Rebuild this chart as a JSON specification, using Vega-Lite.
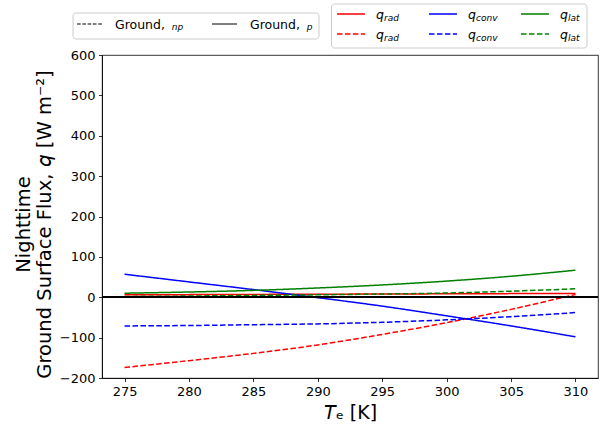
{
  "$schema": "https://vega.github.io/schema/vega-lite/v6.json",
  "width": 496,
  "height": 323,
  "autosize": {"type": "none"},
  "padding": {"left": 102, "top": 55, "right": 4, "bottom": 53},
  "background": "white",
  "config": {
    "font": "DejaVu Sans",
    "view": {"stroke": "black", "strokeWidth": 0.8},
    "axis": {
      "domainColor": "black",
      "domainWidth": 0.8,
      "tickColor": "black",
      "tickWidth": 0.8,
      "tickSize": 3.5,
      "labelPadding": 3.5,
      "labelFont": "DejaVu Sans",
      "labelFontSize": 13,
      "labelColor": "black",
      "titleFont": "DejaVu Sans",
      "titleFontSize": 19,
      "titleFontWeight": "normal",
      "titleColor": "black",
      "grid": false
    }
  },
  "datasets": {
    "flux": [
      {"T": 275, "flux": "rad", "case": "p", "q": 6},
      {"T": 280, "flux": "rad", "case": "p", "q": 6.5},
      {"T": 285, "flux": "rad", "case": "p", "q": 7},
      {"T": 290, "flux": "rad", "case": "p", "q": 7.5},
      {"T": 295, "flux": "rad", "case": "p", "q": 8},
      {"T": 300, "flux": "rad", "case": "p", "q": 8.5},
      {"T": 305, "flux": "rad", "case": "p", "q": 9},
      {"T": 310, "flux": "rad", "case": "p", "q": 9.5},
      {"T": 275, "flux": "rad", "case": "np", "q": -174},
      {"T": 280, "flux": "rad", "case": "np", "q": -157},
      {"T": 285, "flux": "rad", "case": "np", "q": -139},
      {"T": 290, "flux": "rad", "case": "np", "q": -118},
      {"T": 295, "flux": "rad", "case": "np", "q": -92},
      {"T": 300, "flux": "rad", "case": "np", "q": -63},
      {"T": 305, "flux": "rad", "case": "np", "q": -30},
      {"T": 310, "flux": "rad", "case": "np", "q": 7},
      {"T": 275, "flux": "conv", "case": "p", "q": 57},
      {"T": 280, "flux": "conv", "case": "p", "q": 38},
      {"T": 285, "flux": "conv", "case": "p", "q": 19},
      {"T": 290, "flux": "conv", "case": "p", "q": -1},
      {"T": 295, "flux": "conv", "case": "p", "q": -22},
      {"T": 300, "flux": "conv", "case": "p", "q": -46},
      {"T": 305, "flux": "conv", "case": "p", "q": -71},
      {"T": 310, "flux": "conv", "case": "p", "q": -98},
      {"T": 275, "flux": "conv", "case": "np", "q": -71},
      {"T": 280, "flux": "conv", "case": "np", "q": -70},
      {"T": 285, "flux": "conv", "case": "np", "q": -68},
      {"T": 290, "flux": "conv", "case": "np", "q": -66},
      {"T": 295, "flux": "conv", "case": "np", "q": -62},
      {"T": 300, "flux": "conv", "case": "np", "q": -56},
      {"T": 305, "flux": "conv", "case": "np", "q": -48},
      {"T": 310, "flux": "conv", "case": "np", "q": -38},
      {"T": 275, "flux": "lat", "case": "p", "q": 10},
      {"T": 280, "flux": "lat", "case": "p", "q": 13},
      {"T": 285, "flux": "lat", "case": "p", "q": 17},
      {"T": 290, "flux": "lat", "case": "p", "q": 23},
      {"T": 295, "flux": "lat", "case": "p", "q": 30.5},
      {"T": 300, "flux": "lat", "case": "p", "q": 40},
      {"T": 305, "flux": "lat", "case": "p", "q": 52},
      {"T": 310, "flux": "lat", "case": "p", "q": 67},
      {"T": 275, "flux": "lat", "case": "np", "q": 2},
      {"T": 280, "flux": "lat", "case": "np", "q": 3},
      {"T": 285, "flux": "lat", "case": "np", "q": 4.5},
      {"T": 290, "flux": "lat", "case": "np", "q": 6},
      {"T": 295, "flux": "lat", "case": "np", "q": 8},
      {"T": 300, "flux": "lat", "case": "np", "q": 10.5},
      {"T": 305, "flux": "lat", "case": "np", "q": 15},
      {"T": 310, "flux": "lat", "case": "np", "q": 21}
    ],
    "fluxKey": [
      {"flux": "rad", "case": "p", "col": 0, "row": 0, "sub": "rad"},
      {"flux": "conv", "case": "p", "col": 1, "row": 0, "sub": "conv"},
      {"flux": "lat", "case": "p", "col": 2, "row": 0, "sub": "lat"},
      {"flux": "rad", "case": "np", "col": 0, "row": 1, "sub": "rad"},
      {"flux": "conv", "case": "np", "col": 1, "row": 1, "sub": "conv"},
      {"flux": "lat", "case": "np", "col": 2, "row": 1, "sub": "lat"}
    ],
    "caseKey": [
      {"case": "np", "col": 0, "row": 0, "sub": "np"},
      {"case": "p", "col": 1, "row": 0, "sub": "p"}
    ]
  },
  "layer": [
    {
      "data": {"name": "flux"},
      "layer": [
        {
          "mark": {"type": "line", "strokeWidth": 1.5, "interpolate": "monotone"},
          "encoding": {
            "x": {
              "field": "T",
              "type": "quantitative",
              "scale": {"domain": [273.25, 311.75], "nice": false, "zero": false},
              "axis": {
                "values": [275, 280, 285, 290, 295, 300, 305, 310],
                "title": "𝘛ₑ [K]",
                "titleX": 248,
                "titleY": 40,
                "titleAlign": "center",
                "titleBaseline": "alphabetic"
              }
            },
            "y": {
              "field": "q",
              "type": "quantitative",
              "scale": {"domain": [-200, 600], "nice": false, "zero": false},
              "axis": {
                "values": [-200, -100, 0, 100, 200, 300, 400, 500, 600],
                "title": ["Nighttime", "Ground Surface Flux, 𝘲 [W m⁻²]"],
                "titleAngle": -90,
                "titleFontSize": 19.5,
                "titleX": -73,
                "titleY": 169,
                "titleAlign": "center",
                "titleBaseline": "alphabetic",
                "titleLineHeight": 21.5
              }
            },
            "color": {
              "field": "flux",
              "type": "nominal",
              "scale": {"domain": ["rad", "conv", "lat"], "range": ["#ff0000", "#0000ff", "#008000"]},
              "legend": null
            },
            "strokeDash": {
              "field": "case",
              "type": "nominal",
              "scale": {"domain": ["np", "p"], "range": [[5.55, 2.4], [1, 0]]},
              "legend": null
            }
          }
        },
        {
          "mark": {"type": "rule", "color": "black", "strokeWidth": 1.5},
          "encoding": {"y": {"datum": 0, "type": "quantitative"}}
        }
      ]
    },
    {
      "data": {"name": "fluxKey"},
      "layer": [
        {
          "mark": {
            "type": "rect",
            "fill": "white",
            "fillOpacity": 0.8,
            "stroke": "#cccccc",
            "strokeWidth": 1,
            "cornerRadius": 3,
            "xOffset": -5.5,
            "x2Offset": 66,
            "yOffset": -10,
            "y2Offset": 14
          },
          "encoding": {
            "x": {"aggregate": "min", "field": "col", "type": "quantitative", "scale": {"domain": [0, 2], "range": [235, 419]}, "axis": null},
            "x2": {"aggregate": "max", "field": "col"},
            "y": {"aggregate": "min", "field": "row", "type": "quantitative", "scale": {"domain": [0, 1], "range": [-41, -21]}, "axis": null},
            "y2": {"aggregate": "max", "field": "row"}
          }
        },
        {
          "mark": {"type": "rule", "strokeWidth": 1.5, "x2Offset": 28},
          "encoding": {
            "x": {"field": "col", "type": "quantitative", "scale": {"domain": [0, 2], "range": [235, 419]}, "axis": null},
            "x2": {"field": "col"},
            "y": {"field": "row", "type": "quantitative", "scale": {"domain": [0, 1], "range": [-41, -21]}, "axis": null},
            "color": {
              "field": "flux",
              "type": "nominal",
              "scale": {"domain": ["rad", "conv", "lat"], "range": ["#ff0000", "#0000ff", "#008000"]},
              "legend": null
            },
            "strokeDash": {
              "field": "case",
              "type": "nominal",
              "scale": {"domain": ["np", "p"], "range": [[5.55, 2.4], [1, 0]]},
              "legend": null
            }
          }
        },
        {
          "mark": {"type": "text", "text": "q", "fontStyle": "italic", "fontSize": 12.5, "align": "left", "baseline": "alphabetic", "dx": 39, "dy": 4.5, "color": "black"},
          "encoding": {
            "x": {"field": "col", "type": "quantitative", "scale": {"domain": [0, 2], "range": [235, 419]}, "axis": null},
            "y": {"field": "row", "type": "quantitative", "scale": {"domain": [0, 1], "range": [-41, -21]}, "axis": null}
          }
        },
        {
          "mark": {"type": "text", "fontStyle": "italic", "fontSize": 9, "align": "left", "baseline": "alphabetic", "dx": 47, "dy": 6.5, "color": "black"},
          "encoding": {
            "x": {"field": "col", "type": "quantitative", "scale": {"domain": [0, 2], "range": [235, 419]}, "axis": null},
            "y": {"field": "row", "type": "quantitative", "scale": {"domain": [0, 1], "range": [-41, -21]}, "axis": null},
            "text": {"field": "sub"}
          }
        }
      ]
    },
    {
      "data": {"name": "caseKey"},
      "layer": [
        {
          "mark": {
            "type": "rect",
            "fill": "white",
            "fillOpacity": 0.8,
            "stroke": "#cccccc",
            "strokeWidth": 1,
            "cornerRadius": 3,
            "xOffset": -4,
            "x2Offset": 107,
            "yOffset": -11,
            "y2Offset": 15
          },
          "encoding": {
            "x": {"aggregate": "min", "field": "col", "type": "quantitative", "scale": {"domain": [0, 1], "range": [-25, 110]}, "axis": null},
            "x2": {"aggregate": "max", "field": "col"},
            "y": {"aggregate": "min", "field": "row", "type": "quantitative", "scale": {"domain": [0, 1], "range": [-31, -11]}, "axis": null},
            "y2": {"aggregate": "max", "field": "row"}
          }
        },
        {
          "mark": {"type": "rule", "strokeWidth": 1, "color": "black", "x2Offset": 25},
          "encoding": {
            "x": {"field": "col", "type": "quantitative", "scale": {"domain": [0, 1], "range": [-25, 110]}, "axis": null},
            "x2": {"field": "col"},
            "y": {"field": "row", "type": "quantitative", "scale": {"domain": [0, 1], "range": [-31, -11]}, "axis": null},
            "strokeDash": {
              "field": "case",
              "type": "nominal",
              "scale": {"domain": ["np", "p"], "range": [[3.7, 1.6], [1, 0]]},
              "legend": null
            }
          }
        },
        {
          "mark": {"type": "text", "text": "Ground,", "fontSize": 12.5, "align": "left", "baseline": "alphabetic", "dx": 38, "dy": 5.3, "color": "black"},
          "encoding": {
            "x": {"field": "col", "type": "quantitative", "scale": {"domain": [0, 1], "range": [-25, 110]}, "axis": null},
            "y": {"field": "row", "type": "quantitative", "scale": {"domain": [0, 1], "range": [-31, -11]}, "axis": null}
          }
        },
        {
          "mark": {"type": "text", "fontStyle": "italic", "fontSize": 9, "align": "left", "baseline": "alphabetic", "dx": 94.7, "dy": 6, "color": "black"},
          "encoding": {
            "x": {"field": "col", "type": "quantitative", "scale": {"domain": [0, 1], "range": [-25, 110]}, "axis": null},
            "y": {"field": "row", "type": "quantitative", "scale": {"domain": [0, 1], "range": [-31, -11]}, "axis": null},
            "text": {"field": "sub"}
          }
        }
      ]
    }
  ],
  "resolve": {"scale": {"x": "independent", "y": "independent", "color": "independent", "strokeDash": "independent"}}
}
